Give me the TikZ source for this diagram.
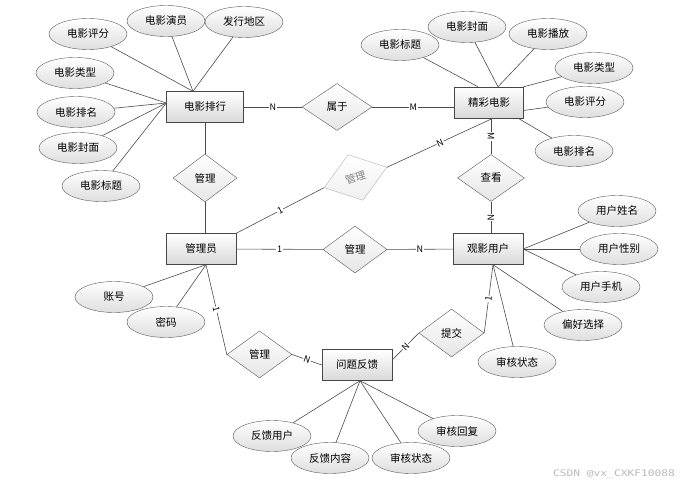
\documentclass[tikz,border=0pt]{standalone}
\usepackage{fontspec}
\setmainfont{Noto Sans CJK SC}
\newfontfamily\wmfont{DejaVu Sans Mono}
\usetikzlibrary{shapes.geometric}
\begin{document}
\begin{tikzpicture}[x=1pt,y=-1pt,
  txt/.style={font=\fontsize{10.5}{12}\selectfont},
  ent/.style={txt, rectangle, draw=black!72, top color=white, bottom color=black!15, minimum width=70pt, minimum height=31pt, inner sep=0pt},
  attr/.style={txt, ellipse, draw=black!65, top color=white, bottom color=black!13, minimum width=78pt, minimum height=31pt, inner sep=0pt},
  rel/.style={txt, diamond, draw=black!65, top color=white, bottom color=black!10, minimum width=65pt, minimum height=47pt, inner sep=0pt},
  relgrey/.style={rel, draw=black!30, top color=white, bottom color=black!6, text=black!50},
  ln/.style={draw=black!70, line width=0.6pt},
  card/.style={fill=white, inner sep=0.6pt, font=\fontsize{9}{10}\selectfont},
  wmark/.style={font=\wmfont\fontsize{9}{10}\selectfont, text=black!28, inner sep=0pt, xscale=1.25}
]
\useasboundingbox (0,0) rectangle (687,489);

% entities
\node[ent, minimum width=77pt] (mr) at (205,107) {电影排行};
\node[ent, minimum width=69pt] (jc) at (489,102.5) {精彩电影};
\node[ent] (gl) at (201,249) {管理员};
\node[ent] (gy) at (488,249) {观影用户};
\node[ent] (wt) at (357,365) {问题反馈};

% relationships
\node[rel, minimum width=70pt] (r1) at (337,107) {属于};
\node[rel, minimum width=64pt, minimum height=48pt] (r2) at (205,178) {管理};
\node[relgrey, minimum width=66pt, minimum height=48pt, rotate=18] (r3) at (355.5,177.5) {管理};
\node[rel, minimum width=67pt] (r4) at (491,178) {查看};
\node[rel, minimum width=64pt] (r5) at (355,249.5) {管理};
\node[rel] (r6) at (259.5,354.5) {管理};
\node[rel, minimum height=48pt] (r7) at (451.5,333) {提交};

% attributes of 电影排行
\node[attr] (a1) at (88,34) {电影评分};
\node[attr] (a2) at (166,21) {电影演员};
\node[attr] (a3) at (244,22) {发行地区};
\node[attr] (a4) at (75,73) {电影类型};
\node[attr] (a5) at (76,112) {电影排名};
\node[attr] (a6) at (78,148) {电影封面};
\node[attr] (a7) at (101,186) {电影标题};
% attributes of 精彩电影
\node[attr] (b1) at (400,45) {电影标题};
\node[attr] (b2) at (467,27) {电影封面};
\node[attr] (b3) at (548,34) {电影播放};
\node[attr] (b4) at (594,68) {电影类型};
\node[attr] (b5) at (585,102) {电影评分};
\node[attr] (b6) at (574,151) {电影排名};
% attributes of 观影用户
\node[attr] (c1) at (617,211) {用户姓名};
\node[attr] (c2) at (619,249) {用户性别};
\node[attr] (c3) at (601,287) {用户手机};
\node[attr] (c4) at (583,325) {偏好选择};
\node[attr] (c5) at (517,362) {审核状态};
% attributes of 管理员
\node[attr] (d1) at (114,297) {账号};
\node[attr] (d2) at (166,322) {密码};
% attributes of 问题反馈
\node[attr] (e1) at (272,436) {反馈用户};
\node[attr] (e2) at (330,458) {反馈内容};
\node[attr] (e3) at (411,458) {审核状态};
\node[attr] (e4) at (457,431) {审核回复};

% anchor points
\coordinate (mrT) at ([xshift=-12pt]mr.north);
\coordinate (mrL) at ([yshift=4pt]mr.west);
\coordinate (jcT1) at ([xshift=-11pt]jc.north);
\coordinate (jcT2) at ([xshift=9pt]jc.north);
\coordinate (jcR) at ([yshift=-8pt]jc.east);
\coordinate (jcB) at ([xshift=29pt]jc.south);
\coordinate (jcB2) at ([xshift=4pt]jc.south);
\coordinate (glB) at ([xshift=5pt]gl.south);
\coordinate (gyB) at ([xshift=5pt]gy.south);
\coordinate (wtB) at ([xshift=3pt]wt.south);
\coordinate (wtR) at ([yshift=5pt]wt.east);

% attribute links
\foreach \n in {a1,a2,a3} \draw[ln] (\n) -- (mrT);
\foreach \n in {a4,a5,a6,a7} \draw[ln] (\n) -- (mrL);
\draw[ln] (b1) -- (jcT1);
\draw[ln] (b2) -- (jcT2);
\draw[ln] (b3) -- (jcT2);
\draw[ln] (b4) -- (jc.north east);
\draw[ln] (b5) -- (jcR);
\draw[ln] (b6) -- (jcB);
\foreach \n in {c1,c2,c3} \draw[ln] (\n) -- (gy.east);
\foreach \n in {c4,c5} \draw[ln] (\n) -- (gyB);
\foreach \n in {d1,d2} \draw[ln] (\n) -- (glB);
\foreach \n in {e1,e2,e3,e4} \draw[ln] (\n) -- (wtB);

% relationship links
\draw[ln] (mr) -- node[card]{N} (r1);
\draw[ln] (r1) -- node[card]{M} (jc.west |- r1);
\draw[ln] (mr.south -| r2) -- (r2);
\draw[ln] (r2) -- (r2 |- gl.north);
\draw[ln] (jc.south -| r4) -- node[card, sloped]{M} (r4);
\draw[ln] (r4) -- node[card, sloped]{N} (r4 |- gy.north);
\draw[ln] (jcB2) -- node[card, sloped]{N} (r3.east);
\draw[ln] (r3.west) -- node[card, sloped]{1} (gl.north east);
\draw[ln] (gl) -- node[card]{1} (r5);
\draw[ln] (r5) -- node[card]{N} (gy);
\draw[ln] (glB) -- node[card, sloped]{1} (r6.west);
\draw[ln] (r6.east) -- node[card, sloped]{N} (wt.west);
\draw[ln] (wtR) -- node[card, sloped]{N} (r7.west);
\draw[ln] (r7.east) -- node[card, sloped]{1} (gyB);

% watermark
\node[wmark] (wm) at (614,474) {CSDN @vx\_CXKF10088};
\end{tikzpicture}
\end{document}
